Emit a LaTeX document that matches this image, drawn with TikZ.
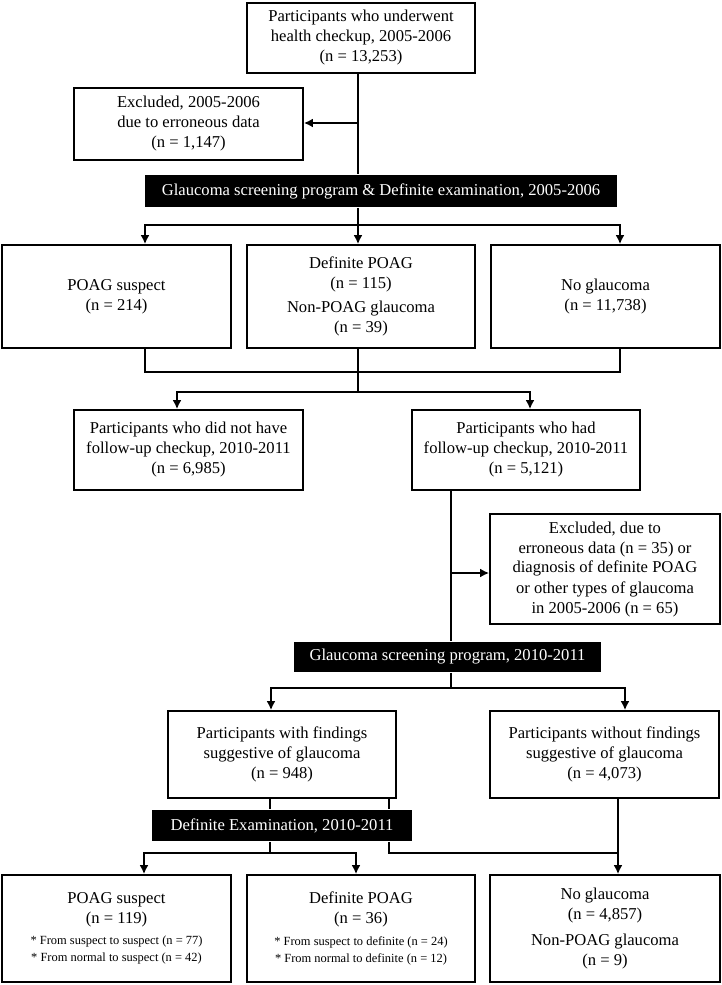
\documentclass[tikz,border=0pt]{standalone}
\usepackage{fontspec}
\setmainfont{Liberation Serif}
\usetikzlibrary{arrows.meta}
\newcommand{\smalltext}{\fontsize{12.45}{16}\selectfont}

\begin{document}
\begin{tikzpicture}[x=1pt, y=-1pt, line width=1.8pt, >={Latex[length=9pt,width=9pt]}, box/.style={rectangle, draw, fill=white, align=center, inner sep=0pt, font=\fontsize{16.6}{20}\selectfont}, bar/.style={rectangle, fill=black, text=white, inner sep=0pt, font=\fontsize{16.6}{20}\selectfont}]
	\useasboundingbox (0,0) rectangle (722,985);
	\node[box, minimum width=228pt, minimum height=70pt] (top) at (361,38) {Participants who underwent\\health checkup, 2005-2006\\(n = 13,253)};
	\node[box, minimum width=229pt, minimum height=72pt] (excl1) at (188.5,124) {Excluded, 2005-2006\\due to erroneous data\\(n = 1,147)};
	\node[bar, minimum width=472pt, minimum height=32pt] (bar1) at (381,191) {Glaucoma screening program \& Definite examination, 2005-2006};
	\node[box, minimum width=229pt, minimum height=103pt] (susp1) at (116.5,296.5) {POAG suspect\\(n = 214)};
	\node[box, minimum width=228pt, minimum height=103pt] (defi1) at (361,296.5) {Definite POAG\\(n = 115)\\[4.5pt]Non-POAG glaucoma\\(n = 39)};
	\node[box, minimum width=229pt, minimum height=103pt] (nog1) at (605.5,296.5) {No glaucoma\\(n = 11,738)};
	\node[box, minimum width=229pt, minimum height=80pt] (nofu) at (188.5,450) {Participants who did not have\\follow-up checkup, 2010-2011\\(n = 6,985)};
	\node[box, minimum width=228pt, minimum height=80pt] (fu) at (526,450) {Participants who had\\follow-up checkup, 2010-2011\\(n = 5,121)};
	\node[box, minimum width=230pt, minimum height=110pt] (excl2) at (605,569) {Excluded, due to\\erroneous data (n = 35) or\\diagnosis of definite POAG\\or other types of glaucoma\\in 2005-2006 (n = 65)};
	\node[bar, minimum width=307pt, minimum height=30pt] (bar2) at (447.5,657) {Glaucoma screening program, 2010-2011};
	\node[box, minimum width=228pt, minimum height=87pt] (find) at (282,754.5) {Participants with findings\\suggestive of glaucoma\\(n = 948)};
	\node[box, minimum width=229pt, minimum height=87pt] (nofind) at (604.5,754.5) {Participants without findings\\suggestive of glaucoma\\(n = 4,073)};
	\node[bar, minimum width=260pt, minimum height=31pt] (bar3) at (282,825.5) {Definite Examination, 2010-2011};
	\node[box, minimum width=229pt, minimum height=107pt] (susp2) at (116.5,928.5) {POAG suspect\\(n = 119)\\[1.5pt]\smalltext * From suspect to suspect (n = 77)\\[-3pt]\smalltext * From normal to suspect (n = 42)};
	\node[box, minimum width=228pt, minimum height=107pt] (defi2) at (361,928.5) {Definite POAG\\(n = 36)\\[1.5pt]\smalltext * From suspect to definite (n = 24)\\[-3pt]\smalltext * From normal to definite (n = 12)};
	\node[box, minimum width=230pt, minimum height=107pt] (nog2) at (605,928.5) {No glaucoma\\(n = 4,857)\\[6pt]Non-POAG glaucoma\\(n = 9)};
	\coordinate (s1) at (358,123);
	\coordinate (s2) at (358,225);
	\coordinate (a1) at (145,225);
	\coordinate (a3) at (620,225);
	\coordinate (m1) at (358,372);
	\coordinate (m2) at (358,392);
	\coordinate (b1) at (177,392);
	\coordinate (b2) at (530,392);
	\coordinate (c1) at (451,573);
	\coordinate (d0) at (451,688);
	\coordinate (d1) at (271,688);
	\coordinate (d2) at (625,688);
	\coordinate (e0) at (270,853);
	\coordinate (e1) at (144,853);
	\coordinate (e2) at (356,853);
	\coordinate (f1) at (389,853);
	\coordinate (f2) at (618,853);
	\draw (s1 |- top.south) -- (s1 |- bar1.north);
	\draw[->] (s1) -- (s1 -| excl1.east);
	\draw[->] (s1 |- bar1.south) -- (s1 |- defi1.north);
	\draw[->] (s2) -| (a1 |- susp1.north);
	\draw[->] (s2) -| (a3 |- nog1.north);
	\draw (a1 |- susp1.south) |- (m1) -| (a3 |- nog1.south);
	\draw (m1 |- defi1.south) -- (m2);
	\draw[->] (m2) -| (b1 |- nofu.north);
	\draw[->] (m2) -| (b2 |- fu.north);
	\draw (c1 |- fu.south) -- (c1 |- bar2.north);
	\draw[->] (c1) -- (c1 -| excl2.west);
	\draw[->] (d0 |- bar2.south) -- (d0) -| (d1 |- find.north);
	\draw[->] (d0) -| (d2 |- nofind.north);
	\draw (e0 |- find.south) -- (e0 |- bar3.north);
	\draw[->] (e0 |- bar3.south) -- (e0) -| (e1 |- susp2.north);
	\draw[->] (e0) -| (e2 |- defi2.north);
	\draw (f1 |- find.south) -- (f1 |- bar3.north);
	\draw (f1 |- bar3.south) -- (f1) -| (f2 |- nofind.south);
	\draw[->] (f2 |- nofind.south) -- (f2 |- nog2.north);
\end{tikzpicture}
\end{document}
